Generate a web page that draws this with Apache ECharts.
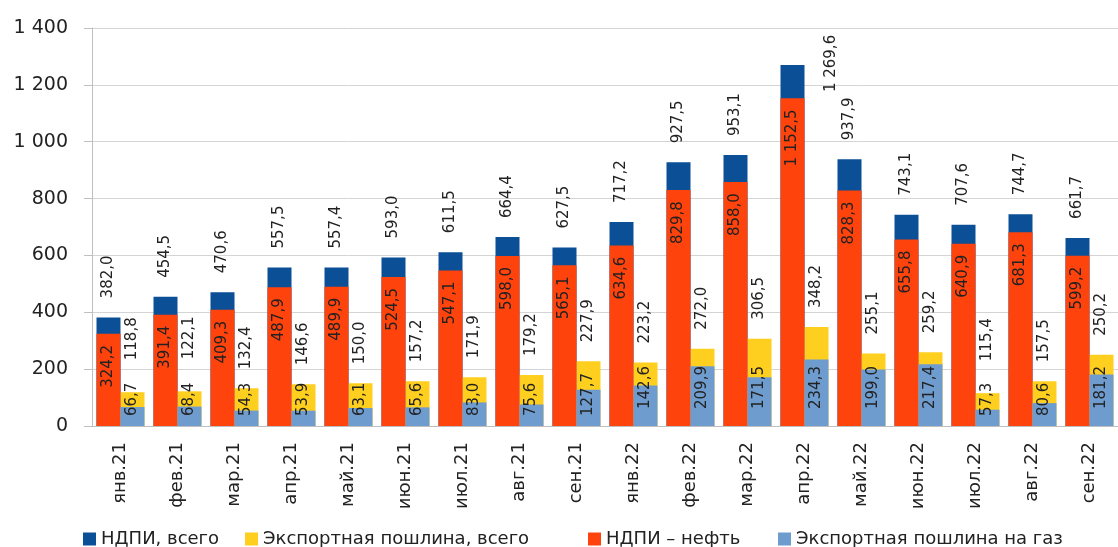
<!DOCTYPE html>
<html>
<head>
<meta charset="utf-8" />
<title>НДПИ и экспортная пошлина</title>
<script src="https://cdn.jsdelivr.net/npm/echarts@6/dist/echarts.min.js"></script>
<style>
  * { margin: 0; padding: 0; }
  html, body { width: 1118px; height: 547px; background: #fff; }
</style>
</head>
<body>
<div id="main" style="width:1118px;height:547px;"></div>
<script>
  // данные (млрд руб.)
  const months = ['янв.21','фев.21','мар.21','апр.21','май.21','июн.21','июл.21','авг.21','сен.21',
                  'янв.22','фев.22','мар.22','апр.22','май.22','июн.22','июл.22','авг.22','сен.22'];
  const ndpiTotal = [382.0, 454.5, 470.6, 557.5, 557.4, 593.0, 611.5, 664.4, 627.5,
                     717.2, 927.5, 953.1, 1269.6, 937.9, 743.1, 707.6, 744.7, 661.7];
  const ndpiOil = [324.2, 391.4, 409.3, 487.9, 489.9, 524.5, 547.1, 598.0, 565.1,
                   634.6, 829.8, 858.0, 1152.5, 828.3, 655.8, 640.9, 681.3, 599.2];
  const dutyTotal = [118.8, 122.1, 132.4, 146.6, 150.0, 157.2, 171.9, 179.2, 227.9,
                     223.2, 272.0, 306.5, 348.2, 255.1, 259.2, 115.4, 157.5, 250.2];
  const dutyGas = [66.7, 68.4, 54.3, 53.9, 63.1, 65.6, 83.0, 75.6, 127.7,
                   142.6, 209.9, 171.5, 234.3, 199.0, 217.4, 57.3, 80.6, 181.2];

  const FONT = 'DejaVu Sans';

  // 1269,6 -> "1 269,6"
  function fmt(v, digits) {
    const s = v.toFixed(digits).split('.');
    s[0] = s[0].replace(/\B(?=(\d{3})+(?!\d))/g, ' ');
    return s.join(',');
  }

  const chart = echarts.init(document.getElementById('main'));

  const baseLabel = {
    show: true, rotate: 90, verticalAlign: 'middle',
    fontFamily: FONT, fontSize: 15, color: '#222',
    formatter: p => fmt(p.value, 1)
  };
  const topLabel = Object.assign({}, baseLabel, { position: 'top', distance: 19, align: 'left' });
  const innerLabel = Object.assign({}, baseLabel, { position: 'insideTop', distance: 11, align: 'right' });
  const bottomLabel = Object.assign({}, baseLabel, { position: 'insideBottom', distance: 17, align: 'left' });

  function legendAt(name, left) {
    return {
      data: [name], left: left, top: 530, padding: 0,
      icon: 'rect', itemWidth: 13, itemHeight: 13,
      textStyle: { fontFamily: FONT, fontSize: 18, color: '#222' }
    };
  }

  const option = {
    animation: false,
    grid: { left: 92, right: -13, top: 28, bottom: 121 },
    legend: [
      legendAt('НДПИ, всего', 83),
      legendAt('Экспортная пошлина, всего', 245),
      legendAt('НДПИ – нефть', 588),
      legendAt('Экспортная пошлина на газ', 778)
    ],
    xAxis: [
      {
        type: 'category', data: months,
        axisLine: { lineStyle: { color: '#bfbfbf' } },
        axisTick: { length: 7, lineStyle: { color: '#bfbfbf' } },
        axisLabel: { rotate: 90, margin: 16, fontFamily: FONT, fontSize: 18, color: '#222' }
      },
      { type: 'category', data: months, show: false }
    ],
    yAxis: {
      type: 'value', min: 0, max: 1400, interval: 200,
      axisLine: { show: true, lineStyle: { color: '#bfbfbf' } },
      axisTick: { show: true, length: 8, lineStyle: { color: '#bfbfbf' } },
      splitLine: { lineStyle: { color: '#d4d4d4' } },
      axisLabel: { margin: 24, fontFamily: FONT, fontSize: 19, color: '#222',
                   formatter: v => fmt(v, 0) }
    },
    series: [
      {
        name: 'НДПИ, всего', type: 'bar', xAxisIndex: 0,
        barWidth: 24, barGap: '0%',
        itemStyle: { color: '#0b4f96' },
        label: topLabel,
        // подпись апреля 2022 сдвинута вправо, как в оригинале
        data: ndpiTotal.map((v, i) => i === 12 ? { value: v, label: { offset: [-46, 39] } } : v)
      },
      {
        name: 'Экспортная пошлина, всего', type: 'bar', xAxisIndex: 0,
        barWidth: 24, barGap: '0%',
        itemStyle: { color: '#ffcf1f' },
        label: topLabel,
        // низкие столбцы: подпись поднята над подписью газа
        data: dutyTotal.map(v => v < 125 ? { value: v, label: { distance: 32 } } : v)
      },
      {
        name: 'НДПИ – нефть', type: 'bar', xAxisIndex: 1,
        barWidth: 24, barGap: '0%',
        itemStyle: { color: '#ff430d' },
        label: innerLabel,
        data: ndpiOil
      },
      {
        name: 'Экспортная пошлина на газ', type: 'bar', xAxisIndex: 1,
        barWidth: 24, barGap: '0%',
        itemStyle: { color: '#6f9ccf' },
        label: bottomLabel,
        data: dutyGas.map(v => v < 130 ? { value: v, label: { distance: 10 } } : v)
      }
    ]
  };
  chart.setOption(option);
</script>
</body>
</html>
